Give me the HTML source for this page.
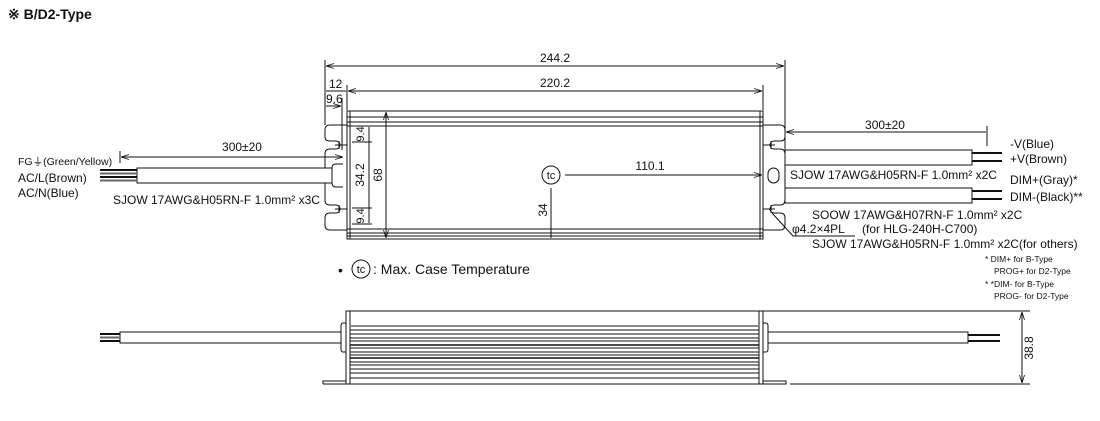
<!DOCTYPE html>
<html><head><meta charset="utf-8"><style>
html,body{margin:0;padding:0;background:#fff;}
svg{display:block;font-family:"Liberation Sans",sans-serif;}
text{fill:#111;}
</style></head><body>
<svg width="1100" height="421" viewBox="0 0 1100 421">
<defs>
<marker id="a" markerWidth="8" markerHeight="6" refX="8" refY="3" orient="auto-start-reverse"><path d="M0,0.5 L8,3 L0,5.5" fill="none" stroke="#111" stroke-width="0.8"/></marker>
</defs>
<text x="8" y="19" font-size="14" font-weight="bold">※ B/D2-Type</text>
<g stroke="#111" stroke-width="1" fill="none">
<line x1="325" y1="60" x2="325" y2="125"/>
<line x1="785" y1="60" x2="785" y2="125"/>
<line x1="326" y1="66" x2="784" y2="66" marker-start="url(#a)" marker-end="url(#a)"/>
<line x1="347" y1="85" x2="347" y2="110"/>
<line x1="763" y1="85" x2="763" y2="110"/>
<line x1="348" y1="91" x2="762" y2="91" marker-start="url(#a)" marker-end="url(#a)"/>
<line x1="326" y1="91" x2="346" y2="91"/>
<line x1="342" y1="98" x2="342" y2="150"/>
<line x1="326" y1="106" x2="341" y2="106" marker-end="url(#a)"/>
<rect x="347" y="111" width="416" height="128"/>
<line x1="350" y1="111" x2="350" y2="239"/>
<line x1="760" y1="111" x2="760" y2="239"/>
<line x1="347" y1="117" x2="763" y2="117"/>
<line x1="347" y1="122" x2="763" y2="122"/>
<line x1="347" y1="126" x2="763" y2="126"/>
<line x1="347" y1="229" x2="763" y2="229"/>
<line x1="347" y1="233" x2="763" y2="233"/>
<line x1="347" y1="236" x2="763" y2="236"/>
<path d="M347,125 H330 Q325,125 325,130 V137 Q325,141 330,141 H336 A4,4 0 0 1 336,149 H330 Q325,149 325,154 V200 Q325,205 330,205 H336 A4,4 0 0 1 336,213 H330 Q325,213 325,218 V225 Q325,230 330,230 H347"/>
<line x1="335" y1="145" x2="347" y2="145"/><line x1="339" y1="141" x2="339" y2="149"/>
<line x1="335" y1="209" x2="347" y2="209"/><line x1="339" y1="205" x2="339" y2="213"/>
<path d="M763,125 H780 Q785,125 785,130 V137 Q785,141 780,141 H774 A4,4 0 0 0 774,149 H780 Q785,149 785,154 V200 Q785,205 780,205 H774 A4,4 0 0 0 774,213 H780 Q785,213 785,218 V225 Q785,230 780,230 H763"/>
<line x1="763" y1="145" x2="775" y2="145"/><line x1="771" y1="141" x2="771" y2="149"/>
<line x1="763" y1="209" x2="775" y2="209"/><line x1="771" y1="205" x2="771" y2="213"/>
<rect x="768" y="168" width="11" height="15" rx="5.5"/>
<line x1="785" y1="120" x2="785" y2="150"/>
<line x1="352" y1="126" x2="372" y2="126"/>
<line x1="352" y1="142" x2="372" y2="142"/>
<line x1="352" y1="208" x2="372" y2="208"/>
<line x1="352" y1="224" x2="372" y2="224"/>
<line x1="369" y1="127" x2="369" y2="223"/>
<line x1="386" y1="112" x2="386" y2="238" marker-start="url(#a)" marker-end="url(#a)"/>
<circle cx="551" cy="175" r="9"/>
<line x1="565" y1="175" x2="762" y2="175" marker-end="url(#a)"/>
<line x1="551" y1="188" x2="551" y2="238"/>
<rect x="137" y="168" width="195" height="15" fill="#fff"/>
<path d="M343,164 H336 Q332,164 332,168 V183 Q332,187 336,187 H343"/>
<line x1="120" y1="151" x2="120" y2="163"/>
<line x1="121" y1="157" x2="343" y2="157" marker-start="url(#a)" marker-end="url(#a)"/>
<rect x="785" y="150" width="187" height="15" fill="#fff"/>
<rect x="785" y="188" width="187" height="15" fill="#fff"/>
<line x1="987" y1="126" x2="987" y2="146"/>
<line x1="786" y1="132" x2="986" y2="132" marker-start="url(#a)"/>
<line x1="772" y1="213" x2="793" y2="236"/>
<line x1="793" y1="236" x2="855" y2="236"/>
<rect x="346" y="311" width="417" height="73"/>
<line x1="350" y1="311" x2="350" y2="384"/>
<line x1="759" y1="311" x2="759" y2="384"/>
<path d="M323,384 V381 H346 M763,381 H786 V384 H323"/>
<path d="M346,323 H343 Q341,323 341,326 V349 Q341,352 343,352 H346"/>
<path d="M763,323 H766 Q768,323 768,326 V349 Q768,352 766,352 H763"/>
<rect x="120" y="332" width="221" height="11" fill="#fff"/>
<rect x="768" y="332" width="200" height="11" fill="#fff"/>
<line x1="763" y1="311" x2="1030" y2="311"/>
<line x1="790" y1="384" x2="1030" y2="384"/>
<line x1="1022" y1="312" x2="1022" y2="383" marker-start="url(#a)" marker-end="url(#a)"/>
</g>
<g stroke="#111" stroke-width="1">
<line x1="350" y1="326" x2="759" y2="326" stroke="#888" stroke-width="2"/>
<line x1="350" y1="330" x2="759" y2="330"/><line x1="350" y1="334" x2="759" y2="334"/>
<line x1="350" y1="338" x2="759" y2="338"/><line x1="350" y1="341" x2="759" y2="341"/>
<line x1="350" y1="345" x2="759" y2="345" stroke-width="1.5"/><line x1="350" y1="348" x2="759" y2="348"/>
<line x1="350" y1="352" x2="759" y2="352"/><line x1="350" y1="355" x2="759" y2="355"/>
<line x1="350" y1="358" x2="759" y2="358" stroke-width="1.5"/><line x1="350" y1="362" x2="759" y2="362"/>
<line x1="350" y1="365" x2="759" y2="365"/><line x1="350" y1="369" x2="759" y2="369"/>
<line x1="350" y1="373" x2="759" y2="373"/><line x1="350" y1="378" x2="759" y2="378"/>
<g stroke-width="2">
<line x1="100" y1="170" x2="137" y2="170"/><line x1="100" y1="173.5" x2="137" y2="173.5" stroke="#666"/><line x1="100" y1="177" x2="137" y2="177"/><line x1="100" y1="180.5" x2="137" y2="180.5" stroke="#666"/>
<line x1="972" y1="153" x2="1002" y2="153"/><line x1="972" y1="161" x2="1002" y2="161"/>
<line x1="972" y1="191" x2="1002" y2="191"/><line x1="972" y1="199" x2="1002" y2="199"/>
<line x1="100" y1="334" x2="120" y2="334"/><line x1="100" y1="337.5" x2="120" y2="337.5" stroke="#666"/><line x1="100" y1="341" x2="120" y2="341"/>
<line x1="968" y1="335" x2="1000" y2="335"/><line x1="968" y1="341" x2="1000" y2="341"/>
</g>
</g>
<g font-size="12">
<text x="555" y="62" text-anchor="middle">244.2</text>
<text x="555" y="87" text-anchor="middle">220.2</text>
<text x="329" y="88">12</text>
<text x="326" y="103">9.6</text>
<text x="242" y="151" text-anchor="middle">300±20</text>
<text x="885" y="129" text-anchor="middle">300±20</text>
<text x="650" y="170" text-anchor="middle">110.1</text>
<text x="551" y="179" text-anchor="middle" font-size="11">tc</text>
<text transform="translate(364,134) rotate(-90)" text-anchor="middle" font-size="11">9.4</text>
<text transform="translate(364,216) rotate(-90)" text-anchor="middle" font-size="11">9.4</text>
<text transform="translate(364,175) rotate(-90)" text-anchor="middle">34.2</text>
<text transform="translate(382,175) rotate(-90)" text-anchor="middle">68</text>
<text transform="translate(547,210) rotate(-90)" text-anchor="middle">34</text>
<text transform="translate(1033,348) rotate(-90)" text-anchor="middle">38.8</text>
<text x="18" y="165" font-size="10.5">FG⏚(Green/Yellow)</text>
<text x="18" y="182">AC/L(Brown)</text>
<text x="18" y="197">AC/N(Blue)</text>
<text x="113" y="204">SJOW 17AWG&amp;H05RN-F 1.0mm² x3C</text>
<text x="1010" y="148">-V(Blue)</text>
<text x="1010" y="163">+V(Brown)</text>
<text x="790" y="179">SJOW 17AWG&amp;H05RN-F 1.0mm² x2C</text>
<text x="1010" y="184">DIM+(Gray)*</text>
<text x="1010" y="201">DIM-(Black)**</text>
<text x="812" y="219">SOOW 17AWG&amp;H07RN-F 1.0mm² x2C</text>
<text x="792" y="233">φ4.2×4PL</text>
<text x="862" y="233">(for HLG-240H-C700)</text>
<text x="812" y="248">SJOW  17AWG&amp;H05RN-F 1.0mm² x2C(for others)</text>
<g font-size="8.5">
<text x="985" y="262">* DIM+ for B-Type</text>
<text x="994" y="274">PROG+ for D2-Type</text>
<text x="985" y="287">* *DIM- for B-Type</text>
<text x="994" y="299">PROG- for D2-Type</text>
</g>
<text x="338" y="275" font-size="14">•</text>
<circle cx="361" cy="269" r="9" fill="none" stroke="#111"/>
<text x="361" y="273" font-size="11" text-anchor="middle">tc</text>
<text x="373" y="274" font-size="14">: Max. Case Temperature</text>
</g>
</svg>
</body></html>
